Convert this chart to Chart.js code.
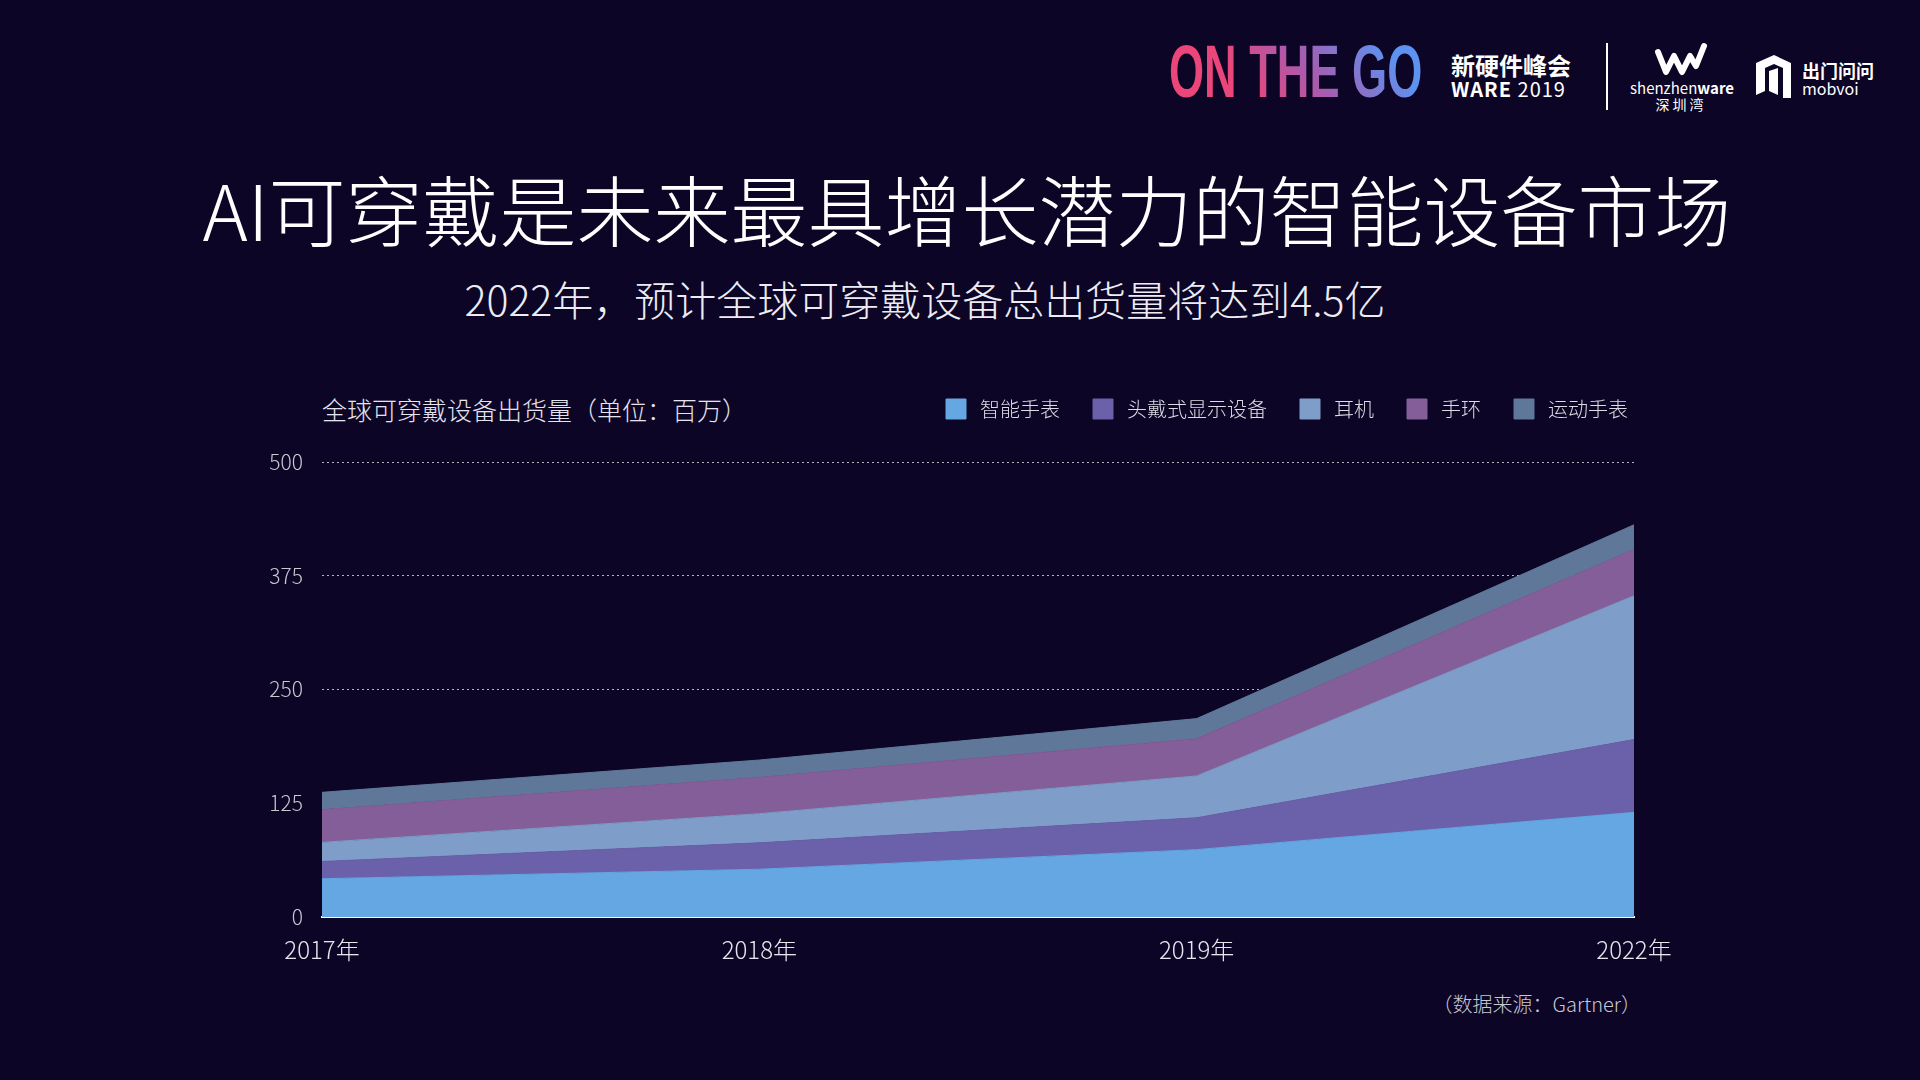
<!DOCTYPE html>
<html lang="zh-CN">
<head>
  <meta charset="UTF-8">
  <title>AI可穿戴设备出货量</title>
  <style>
    html, body {
      margin: 0;
      padding: 0;
    }
    body {
      width: 1920px;
      height: 1080px;
      overflow: hidden;
      position: relative;
      background: #0d0526;
      color: #fff;
      font-family: "Noto Sans CJK SC", "Noto Sans", sans-serif;
    }
    .abs {
      position: absolute;
      white-space: nowrap;
    }
    #title {
      left: 0;
      width: 1934px;
      top: 161px;
      text-align: center;
      font-size: 77px;
      font-weight: 200;
      line-height: 94px;
    }
    #subtitle {
      left: 0;
      width: 1850px;
      top: 270px;
      text-align: center;
      font-size: 41px;
      font-weight: 200;
      line-height: 56px;
      color: #ececf4;
    }
    #chartTitle {
      left: 322px;
      top: 393px;
      font-size: 25px;
      font-weight: 300;
      line-height: 32px;
      color: #e4e4ee;
    }
    #source {
      right: 279px;
      top: 990px;
      font-size: 20px;
      font-weight: 300;
      line-height: 28px;
      color: #c8c8d4;
    }
    #chartCanvas {
      position: absolute;
      left: 230px;
      top: 366px;
    }
    /* logos */
    #otg {
      left: 1169px;
      top: 35px;
      font-family: "Liberation Sans", Arial, sans-serif;
      font-weight: bold;
      font-size: 74px;
      line-height: 74px;
      transform: scaleX(0.61);
      transform-origin: left top;
      background: linear-gradient(40deg, #ea467a 30%, #a75cb0 55%, #5d92f0 85%);
      -webkit-background-clip: text;
      background-clip: text;
      color: transparent;
    }
    #ware1 {
      left: 1451px;
      top: 50px;
      font-size: 24px;
      font-weight: bold;
      line-height: 30px;
    }
    #ware2 {
      left: 1451px;
      top: 77px;
      font-size: 20px;
      line-height: 24px;
      letter-spacing: 1px;
    }
    #divider {
      position: absolute;
      left: 1606px;
      top: 43px;
      width: 2px;
      height: 67px;
      background: #fff;
    }
    #szLogo {
      left: 1654px;
      top: 42px;
    }
    #sz1 {
      left: 1630px;
      width: 102px;
      text-align: center;
      top: 78px;
      font-size: 15px;
      line-height: 20px;
    }
    #sz2 {
      left: 1630px;
      width: 102px;
      text-align: center;
      top: 95px;
      font-size: 14px;
      line-height: 18px;
      letter-spacing: 3px;
    }
    #mbLogo {
      left: 1756px;
      top: 55px;
    }
    #mb1 {
      left: 1802px;
      top: 58px;
      font-size: 18px;
      font-weight: bold;
      line-height: 24px;
    }
    #mb2 {
      left: 1802px;
      top: 78px;
      font-size: 16px;
      line-height: 20px;
    }
  </style>
</head>
<body>

  <div class="abs" id="otg">ON THE GO</div>
  <div class="abs" id="ware1">新硬件峰会</div>
  <div class="abs" id="ware2"><b>WARE</b> 2019</div>
  <div id="divider"></div>
  <svg class="abs" id="szLogo" width="56" height="36" viewBox="0 0 56 36">
    <polyline points="4,10 12,30 20,14 28,30 36,14 42,24 50,4" fill="none" stroke="#fff" stroke-width="6" stroke-linecap="round" stroke-linejoin="round"/>
  </svg>
  <div class="abs" id="sz1">shenzhen<b>ware</b></div>
  <div class="abs" id="sz2">深圳湾</div>
  <svg class="abs" id="mbLogo" width="36" height="44" viewBox="0 0 36 44">
    <path d="M0,8 L18,0 L35,8 L35,43 L27,43 L27,13 L18,9 L9,13 L9,36 L0,40 Z" fill="#fff"/>
    <path d="M13,16 L22,13 L22,40 L13,36 Z" fill="#fff"/>
  </svg>
  <div class="abs" id="mb1">出门问问</div>
  <div class="abs" id="mb2">mobvoi</div>

  <div class="abs" id="title">AI可穿戴是未来最具增长潜力的智能设备市场</div>
  <div class="abs" id="subtitle">2022年，预计全球可穿戴设备总出货量将达到4.5亿</div>
  <div class="abs" id="chartTitle">全球可穿戴设备出货量（单位：百万）</div>
  <div class="abs" id="source">（数据来源：Gartner）</div>

  <canvas id="chartCanvas" width="1451" height="616"></canvas>

  <script src="https://cdn.jsdelivr.net/npm/chart.js"></script>

  <script>
    // 数据（单位：百万）
    const years = ['2017年', '2018年', '2019年', '2022年'];
    const smartwatch = [42, 52.5, 74, 115];
    const headMounted = [19, 29, 35, 80];
    const earphone = [21, 32, 46, 158];
    const wristband = [36, 40, 41, 51];
    const sportsWatch = [19, 19, 22, 27];
    const seriesNames = ['智能手表', '头戴式显示设备', '耳机', '手环', '运动手表'];
    const seriesColors = ['#65a7e2', '#6b61aa', '#7e9dc8', '#835e98', '#5f7899'];
    const yTicks = [0, 125, 250, 375, 500];

    const seriesData = [smartwatch, headMounted, earphone, wristband, sportsWatch];

    Chart.defaults.font.family = '"Noto Sans CJK SC", "Noto Sans", sans-serif';

    // 图例和绘图区之间多留一点空
    const legendGap = {
      id: 'legendGap',
      beforeInit(chart) {
        const fit = chart.legend.fit;
        chart.legend.fit = function () {
          fit.call(this);
          this.height += 33;
        };
      }
    };

    const ctx = document.getElementById('chartCanvas').getContext('2d');
    new Chart(ctx, {
      type: 'line',
      data: {
        labels: years,
        datasets: seriesNames.map((name, i) => ({
          label: name,
          data: seriesData[i],
          backgroundColor: seriesColors[i],
          borderColor: seriesColors[i],
          borderWidth: 1,
          fill: i === 0 ? 'origin' : '-1',
          pointRadius: 0,
          tension: 0
        }))
      },
      options: {
        responsive: false,
        animation: false,
        layout: { padding: { right: 20 } },
        plugins: {
          tooltip: { enabled: false },
          legend: {
            position: 'top',
            align: 'end',
            labels: {
              boxWidth: 20,
              boxHeight: 20,
              padding: 33,
              color: '#dcdce6',
              font: { size: 20, weight: 300 },
              generateLabels: chart => Chart.defaults.plugins.legend.labels.generateLabels(chart)
                .map(item => ({ ...item, text: '\u2009' + item.text }))
            }
          }
        },
        scales: {
          x: {
            z: 1,
            grid: { display: false, drawTicks: false },
            border: { display: true, color: '#ffffff', width: 2 },
            ticks: {
              color: '#e6e6ee',
              font: { size: 24, weight: 300 },
              padding: 18,
              maxRotation: 0
            },
            afterFit: s => {
              s.height = 65;
              s.paddingRight = 47;
            }
          },
          y: {
            stacked: true,
            min: 0,
            max: 500,
            afterBuildTicks: s => {
              s.ticks = yTicks.map(v => ({ value: v }));
            },
            grid: {
              color: c => c.tick.value === 0 ? 'transparent' : 'rgba(255,255,255,0.7)',
              lineWidth: 1,
              drawTicks: false
            },
            border: { display: false, dash: [2, 3] },
            ticks: {
              color: '#c8c8d2',
              font: { size: 21, weight: 300 },
              padding: 19
            },
            afterFit: s => {
              s.width = 92;
            }
          }
        }
      },
      plugins: [legendGap]
    });
  </script>

</body>
</html>
